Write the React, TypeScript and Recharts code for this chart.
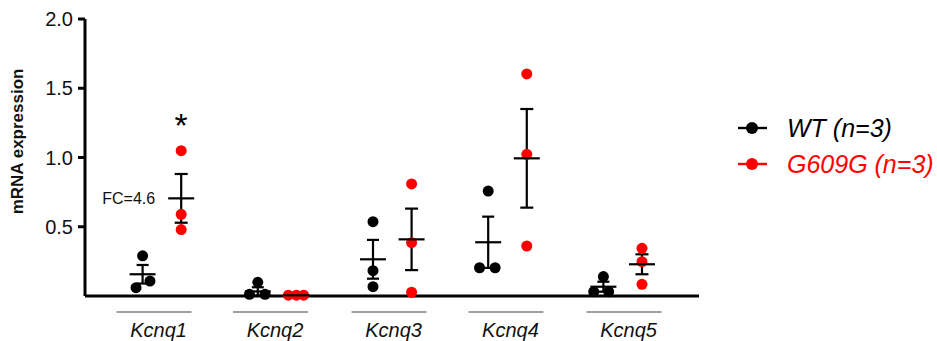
import { ComposedChart, ErrorBar, Scatter, XAxis, YAxis } from 'recharts'

const genes = ['Kcnq1', 'Kcnq2', 'Kcnq3', 'Kcnq4', 'Kcnq5']
const genePositions = [0.595, 1.606, 2.635, 3.65, 4.675]

const wtValues = [
  [0.29, 0.06, 0.108],
  [0.099, 0.012, 0.012],
  [0.537, 0.183, 0.067],
  [0.758, 0.204, 0.204],
  [0.14, 0.031, 0.031],
]
const wtJitter = [
  [0, -0.057, 0.064],
  [0, -0.072, 0.063],
  [0, 0, 0],
  [0, -0.075, 0.06],
  [0, -0.084, 0.046],
]
const wtMean = [0.157, 0.033, 0.265, 0.388, 0.067]
const wtSem = [0.067, 0.03, 0.14, 0.185, 0.036]

const mutValues = [
  [1.049, 0.59, 0.48],
  [0.006, 0.006, 0.006],
  [0.809, 0.385, 0.027],
  [1.603, 1.023, 0.361],
  [0.344, 0.248, 0.084],
]
const mutJitter = [
  [0, 0, 0],
  [-0.07, 0, 0.063],
  [0, 0, 0],
  [0, 0, 0],
  [0, 0, 0],
]
const mutMean = [0.705, 0.005, 0.409, 0.994, 0.229]
const mutSem = [0.176, 0, 0.222, 0.356, 0.072]

const yTicks = [0.5, 1.0, 1.5, 2.0]
const series = [
  { name: 'WT (n=3)', color: '#000000' },
  { name: 'G609G (n=3)', color: '#ff0000' },
]

const WT_X = 0.5
const MUT_X = 0.835
const FONT = '"Liberation Sans", Arial, sans-serif'

const points = (values: number[][], jitter: number[][], base: number) =>
  values.flatMap((vals, i) => vals.map((v, j) => ({ x: i + base + jitter[i][j], y: v })))
const means = (m: number[], s: number[], base: number) => m.map((v, i) => ({ x: i + base, y: v, sem: s[i] }))

const wtPoints = points(wtValues, wtJitter, WT_X)
const mutPoints = points(mutValues, mutJitter, MUT_X)
const wtMeans = means(wtMean, wtSem, WT_X)
const mutMeans = means(mutMean, mutSem, MUT_X)
const starData = [{ x: MUT_X, y: 1.29 }]
const fcData = [{ x: MUT_X, y: mutMean[0], label: 'FC=4.6' }]

const dot = (color: string) => (p: any) => <circle cx={p.cx} cy={p.cy} r={5.5} fill={color} />
const meanLine = (p: any) => (
  <line x1={p.cx - 13} x2={p.cx + 13} y1={p.cy} y2={p.cy} stroke="#000" strokeWidth={2.2} />
)

function GeneTick(props: any) {
  const { x, y, payload } = props
  const i = genePositions.indexOf(payload.value)
  return (
    <g>
      <line x1={x - 37} x2={x + 38} y1={y + 16} y2={y + 16} stroke="#808080" strokeWidth={1.6} />
      <text x={x + 5} y={y + 41} textAnchor="middle" fontSize={20} fontStyle="italic" fill="#111" fontFamily={FONT}>
        {genes[i]}
      </text>
    </g>
  )
}

function LegendBox() {
  return (
    <div style={{ position: 'absolute', left: 738, top: 110, fontFamily: FONT }}>
      {series.map((s) => (
        <div key={s.name} style={{ display: 'flex', alignItems: 'center', height: 36 }}>
          <svg width={30} height={16} style={{ marginRight: 19 }}>
            <line x1={0} x2={29} y1={8} y2={8} stroke={s.color} strokeWidth={2.4} />
            <circle cx={14} cy={8} r={6} fill={s.color} />
          </svg>
          <span style={{ fontSize: 25, fontStyle: 'italic', color: s.color, lineHeight: '36px' }}>{s.name}</span>
        </div>
      ))}
    </div>
  )
}

export default function App() {
  return (
    <div style={{ position: 'absolute', left: 0, top: 0, width: 937, height: 341, background: '#fff' }}>
      <ComposedChart width={937} height={341} margin={{ top: 19, right: 238, bottom: 0, left: 20 }}>
        <XAxis
          type="number"
          dataKey="x"
          domain={[0, 5.33]}
          ticks={genePositions}
          tick={<GeneTick />}
          tickLine={false}
          tickSize={0}
          tickMargin={0}
          height={45}
          axisLine={{ stroke: '#000', strokeWidth: 3 }}
          allowDataOverflow
        />
        <YAxis
          type="number"
          dataKey="y"
          domain={[0, 2]}
          ticks={yTicks}
          width={65}
          tickSize={7}
          tickMargin={5}
          tickFormatter={(v) => Number(v).toFixed(1)}
          tick={{ fontSize: 20, fill: '#111', fontFamily: FONT }}
          tickLine={{ stroke: '#000', strokeWidth: 3 }}
          axisLine={{ stroke: '#000', strokeWidth: 3 }}
          label={{
            content: (p: any) => {
              const vb = p.viewBox
              const cx = 18
              const cy = vb.y + vb.height * 0.442
              return (
                <text
                  x={cx}
                  y={cy}
                  transform={`rotate(-90 ${cx} ${cy})`}
                  textAnchor="middle"
                  dominantBaseline="central"
                  fontSize={17}
                  fontWeight="bold"
                  fill="#111"
                  fontFamily={FONT}
                >
                  mRNA expression
                </text>
              )
            },
          }}
        />
        <Scatter name="WT (n=3)" data={wtPoints} shape={dot('#000')} isAnimationActive={false} />
        <Scatter name="G609G (n=3)" data={mutPoints} shape={dot('#ff0000')} isAnimationActive={false} />
        <Scatter name="WT mean" data={wtMeans} shape={meanLine} isAnimationActive={false}>
          <ErrorBar dataKey="sem" direction="y" width={6} stroke="#000" strokeWidth={2.2} isAnimationActive={false} />
        </Scatter>
        <Scatter name="G609G mean" data={mutMeans} shape={meanLine} isAnimationActive={false}>
          <ErrorBar dataKey="sem" direction="y" width={6.5} stroke="#000" strokeWidth={2.2} isAnimationActive={false} />
        </Scatter>
        <Scatter
          name="star"
          data={starData}
          isAnimationActive={false}
          shape={(p: any) => (
            <text x={p.cx} y={p.cy + 20} textAnchor="middle" fontSize={34} fill="#000" fontFamily={FONT}>
              *
            </text>
          )}
        />
        <Scatter
          name="fc"
          data={fcData}
          isAnimationActive={false}
          shape={(p: any) => (
            <text x={p.cx - 26} y={p.cy + 6} textAnchor="end" fontSize={16} fill="#111" fontFamily={FONT}>
              {p.payload.label}
            </text>
          )}
        />
      </ComposedChart>
      <LegendBox />
    </div>
  )
}
